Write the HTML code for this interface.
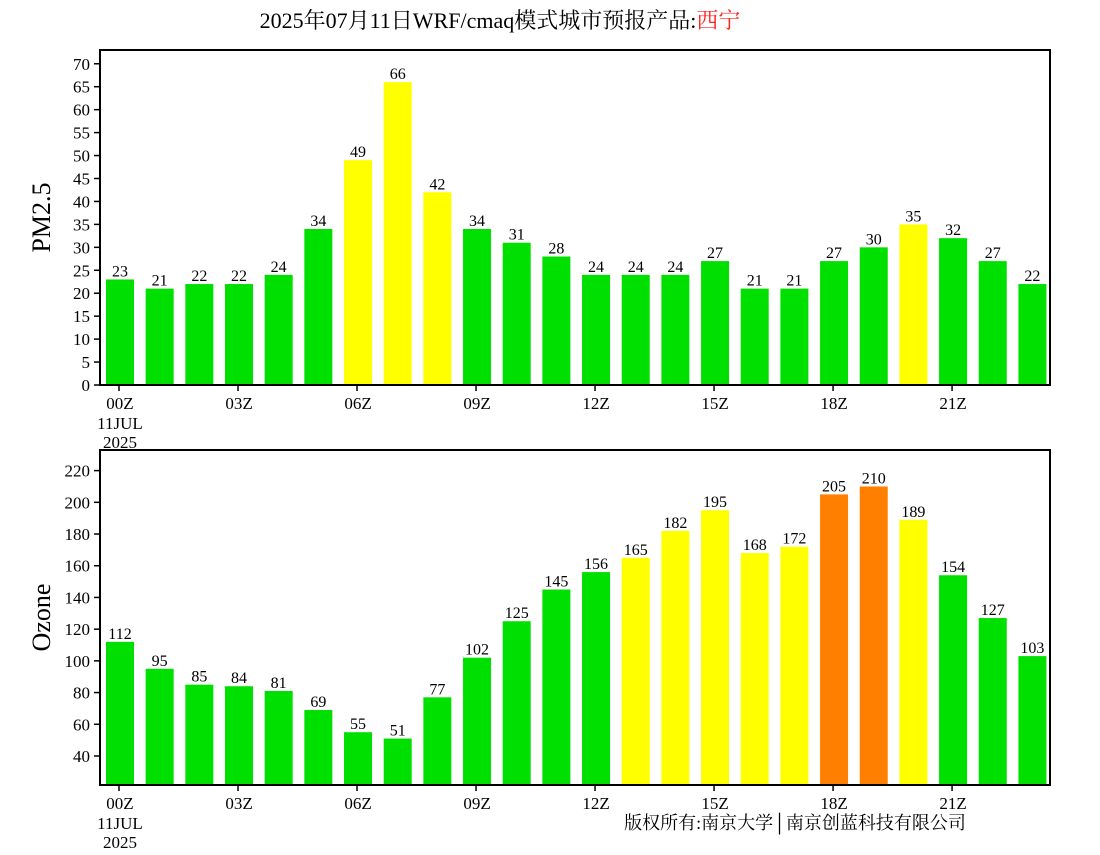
<!DOCTYPE html>
<html><head><meta charset="utf-8"><style>
body{margin:0;background:#fff;}
svg text{font-family:"Liberation Serif","Noto Serif CJK SC",serif;fill:#000;}
</style></head><body>
<svg id="c" width="1100" height="850" xmlns="http://www.w3.org/2000/svg">
<text x="500" y="28" font-size="22" text-anchor="middle">2025年07月11日WRF/cmaq模式城市预报产品:<tspan fill="#ff2020">西宁</tspan></text>
<text x="795" y="829" font-size="18" text-anchor="middle">版权所有:南京大学│南京创蓝科技有限公司</text>
</svg>
<script>
const hours=["00Z","","","03Z","","","06Z","","","09Z","","","12Z","","","15Z","","","18Z","","","21Z","",""];
const pmValues=[23,21,22,22,24,34,49,66,42,34,31,28,24,24,24,27,21,21,27,30,35,32,27,22];
const pmTicks=[0,5,10,15,20,25,30,35,40,45,50,55,60,65,70];
const o3Values=[112,95,85,84,81,69,55,51,77,102,125,145,156,165,182,195,168,172,205,210,189,154,127,103];
const o3Ticks=[40,60,80,100,120,140,160,180,200,220];
const NS="http://www.w3.org/2000/svg";
const svg=document.getElementById('c');
function mk(t,a,p){const e=document.createElementNS(NS,t);for(const k in a)e.setAttribute(k,a[k]);(p||svg).appendChild(e);return e;}
function pmColor(v){return v>75?"#ff7f00":v>35||v===35?"#ffff00":"#00e000";}
function o3Color(v){return v>200?"#ff7f00":v>160?"#ffff00":"#00e000";}
function panel(name,vals,ticks,ymin,ymax,top,bottom,label,colorFn,pm){
  const g=mk('g',{});
  
  
  const L=100,R=1050;
  const y=v=>bottom-(v-ymin)/(ymax-ymin)*(bottom-top);
  const x=i=>120+i*39.67;
  vals.forEach((v,i)=>{
    const r=mk('rect',{x:x(i)-14,y:y(v),width:28,height:bottom-y(v),fill:colorFn(v)},g);
    
    
    const t=mk('text',{x:x(i),y:y(v)-3,'font-size':16,'text-anchor':'middle'},g);
    t.textContent=v;
    
    
  });
  const f=mk('rect',{x:L,y:top,width:R-L,height:bottom-top,fill:'none',stroke:'#000','stroke-width':2},g);
  
  
  ticks.forEach(v=>{
    mk('line',{x1:L-6,x2:L,y1:y(v),y2:y(v),stroke:'#000','stroke-width':1.5},g);
    const t=mk('text',{x:L-10,y:y(v)+6,'font-size':17,'text-anchor':'end'},g);
    t.textContent=v;
    
    
  });
  hours.forEach((h,i)=>{
    if(!h)return;
    mk('line',{x1:x(i)-1,x2:x(i)-1,y1:bottom,y2:bottom+6,stroke:'#000','stroke-width':1.5},g);
    const t=mk('text',{x:x(i),y:bottom+24,'font-size':17,'text-anchor':'middle'},g);
    t.textContent=h;
    
    
  });
  const d1=mk('text',{x:120,y:bottom+44,'font-size':17,'text-anchor':'middle'},g);d1.textContent="11JUL";
  
  
  const d2=mk('text',{x:120,y:bottom+63,'font-size':17,'text-anchor':'middle'},g);d2.textContent="2025";
  
  
  const cy=(top+bottom)/2;
  const yl=mk('text',{x:50,y:cy+pm,'font-size':26,'text-anchor':'middle',transform:`rotate(-90 50 ${cy+pm})`},g);
  yl.textContent=label;
  
  
}
panel('pm25',pmValues,pmTicks,0,73,50,385,'PM2.5',pmColor,-0);
panel('ozone',o3Values,o3Ticks,21.7,233,450,785,'Ozone',o3Color,0);
</script>
</body></html>
